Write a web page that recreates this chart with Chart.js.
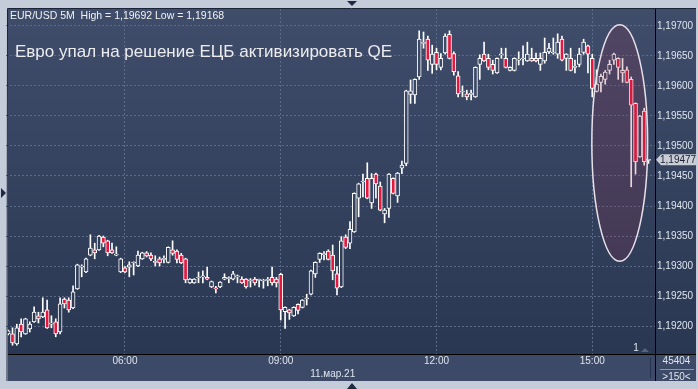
<!DOCTYPE html>
<html>
<head>
<meta charset="utf-8">
<script src="https://cdn.jsdelivr.net/npm/chart.js@4.4.1/dist/chart.umd.min.js"></script>
<style>
  html, body { margin: 0; padding: 0; background: #c3ccd8; }
  #wrap { width: 698px; height: 389px; }
</style>
</head>
<body>
<div id="wrap"><canvas id="chart" width="698" height="389"></canvas></div>
<script>
// texts
const symbolInfo = "EUR/USD 5M  High = 1,19692 Low = 1,19168";
const headline = "Евро упал на решение ЕЦБ активизировать QE";
const dateLabel = "11.мар.21";
const hourLabels = ["06:00", "09:00", "12:00", "15:00"];
const dateUnder = "10:00";
const barTotal = "45404";
const barsShown = ">150<";
const lastPrice = 1.19477;

// 5 minute bars from 03:45, one empty slot at the end
const firstBar = "03:45";
const slots = 150;

const opens = [
  1.19187, 1.19187, 1.19170, 1.19203, 1.19187, 1.19195, 1.19207, 1.19217, 1.19215, 1.19227,
  1.19203, 1.19207, 1.19190, 1.19245, 1.19243, 1.19230, 1.19262, 1.19298, 1.19290, 1.19318,
  1.19327, 1.19327, 1.19348, 1.19342, 1.19327, 1.19318, 1.19290, 1.19297, 1.19298, 1.19305,
  1.19300, 1.19312, 1.19322, 1.19318, 1.19307, 1.19312, 1.19311, 1.19306, 1.19327, 1.19325,
  1.19318, 1.19312, 1.19272, 1.19272, 1.19280, 1.19282, 1.19281, 1.19265, 1.19263, 1.19265,
  1.19278, 1.19279, 1.19278, 1.19282, 1.19278, 1.19278, 1.19275, 1.19278, 1.19276, 1.19275,
  1.19276, 1.19281, 1.19278, 1.19286, 1.19224, 1.19227, 1.19217, 1.19236, 1.19231, 1.19245,
  1.19253, 1.19287, 1.19311, 1.19319, 1.19325, 1.19318, 1.19287, 1.19265, 1.19348, 1.19338,
  1.19357, 1.19413, 1.19440, 1.19446, 1.19405, 1.19453, 1.19433, 1.19387, 1.19396, 1.19446,
  1.19417, 1.19463, 1.19471, 1.19586, 1.19585, 1.19615, 1.19671, 1.19678, 1.19636, 1.19656,
  1.19631, 1.19655, 1.19686, 1.19654, 1.19617, 1.19590, 1.19587, 1.19586, 1.19582, 1.19636,
  1.19653, 1.19646, 1.19636, 1.19622, 1.19652, 1.19646, 1.19626, 1.19626, 1.19643, 1.19645,
  1.19642, 1.19646, 1.19646, 1.19636, 1.19642, 1.19657, 1.19655, 1.19653, 1.19678, 1.19646,
  1.19646, 1.19631, 1.19636, 1.19656, 1.19667, 1.19646, 1.19591, 1.19606, 1.19611, 1.19626,
  1.19643, 1.19646, 1.19626, 1.19627, 1.19611, 1.19571, 1.19482, 1.19558, 1.19476
];
const highs = [
  1.19193, 1.19197, 1.19203, 1.19212, 1.19213, 1.19207, 1.19232, 1.19223, 1.19247, 1.19243,
  1.19217, 1.19212, 1.19247, 1.19247, 1.19247, 1.19267, 1.19303, 1.19302, 1.19313, 1.19352,
  1.19338, 1.19351, 1.19350, 1.19343, 1.19338, 1.19332, 1.19313, 1.19299, 1.19307, 1.19307,
  1.19325, 1.19323, 1.19324, 1.19322, 1.19317, 1.19315, 1.19317, 1.19332, 1.19342, 1.19327,
  1.19321, 1.19313, 1.19279, 1.19279, 1.19290, 1.19292, 1.19298, 1.19275, 1.19266, 1.19274,
  1.19287, 1.19282, 1.19291, 1.19285, 1.19282, 1.19279, 1.19279, 1.19281, 1.19278, 1.19278,
  1.19281, 1.19298, 1.19281, 1.19288, 1.19232, 1.19228, 1.19232, 1.19237, 1.19244, 1.19253,
  1.19293, 1.19307, 1.19322, 1.19324, 1.19327, 1.19335, 1.19299, 1.19349, 1.19352, 1.19374,
  1.19422, 1.19438, 1.19453, 1.19472, 1.19454, 1.19455, 1.19440, 1.19396, 1.19454, 1.19447,
  1.19456, 1.19475, 1.19593, 1.19610, 1.19612, 1.19692, 1.19690, 1.19683, 1.19668, 1.19663,
  1.19654, 1.19687, 1.19692, 1.19657, 1.19624, 1.19600, 1.19593, 1.19593, 1.19632, 1.19652,
  1.19673, 1.19653, 1.19643, 1.19647, 1.19663, 1.19663, 1.19632, 1.19647, 1.19657, 1.19667,
  1.19673, 1.19663, 1.19655, 1.19655, 1.19680, 1.19671, 1.19680, 1.19687, 1.19683, 1.19654,
  1.19663, 1.19643, 1.19663, 1.19678, 1.19668, 1.19653, 1.19627, 1.19620, 1.19626, 1.19643,
  1.19655, 1.19647, 1.19646, 1.19632, 1.19615, 1.19572, 1.19551, 1.19563, 1.19478
];
const lows = [
  1.19185, 1.19168, 1.19168, 1.19182, 1.19186, 1.19190, 1.19206, 1.19205, 1.19214, 1.19196,
  1.19197, 1.19182, 1.19187, 1.19230, 1.19223, 1.19229, 1.19261, 1.19282, 1.19289, 1.19317,
  1.19312, 1.19326, 1.19332, 1.19317, 1.19321, 1.19317, 1.19289, 1.19289, 1.19282, 1.19285,
  1.19299, 1.19311, 1.19315, 1.19309, 1.19300, 1.19300, 1.19305, 1.19305, 1.19318, 1.19305,
  1.19304, 1.19272, 1.19271, 1.19271, 1.19272, 1.19272, 1.19277, 1.19264, 1.19255, 1.19264,
  1.19277, 1.19272, 1.19277, 1.19272, 1.19271, 1.19263, 1.19265, 1.19268, 1.19265, 1.19263,
  1.19267, 1.19268, 1.19265, 1.19210, 1.19196, 1.19211, 1.19216, 1.19220, 1.19230, 1.19235,
  1.19252, 1.19281, 1.19306, 1.19310, 1.19310, 1.19277, 1.19252, 1.19264, 1.19329, 1.19329,
  1.19356, 1.19382, 1.19415, 1.19412, 1.19396, 1.19413, 1.19392, 1.19372, 1.19381, 1.19420,
  1.19406, 1.19454, 1.19467, 1.19571, 1.19571, 1.19611, 1.19663, 1.19626, 1.19621, 1.19627,
  1.19627, 1.19653, 1.19645, 1.19618, 1.19582, 1.19582, 1.19577, 1.19577, 1.19581, 1.19611,
  1.19641, 1.19627, 1.19620, 1.19621, 1.19646, 1.19630, 1.19625, 1.19625, 1.19635, 1.19635,
  1.19641, 1.19641, 1.19640, 1.19626, 1.19638, 1.19654, 1.19653, 1.19646, 1.19642, 1.19626,
  1.19625, 1.19622, 1.19632, 1.19653, 1.19622, 1.19582, 1.19590, 1.19590, 1.19603, 1.19620,
  1.19636, 1.19611, 1.19606, 1.19605, 1.19432, 1.19453, 1.19481, 1.19468, 1.19471
];
const closes = [
  1.19192, 1.19172, 1.19197, 1.19190, 1.19212, 1.19203, 1.19223, 1.19212, 1.19223, 1.19197,
  1.19204, 1.19187, 1.19237, 1.19237, 1.19227, 1.19257, 1.19302, 1.19299, 1.19312, 1.19330,
  1.19322, 1.19350, 1.19338, 1.19322, 1.19322, 1.19319, 1.19312, 1.19290, 1.19302, 1.19306,
  1.19318, 1.19322, 1.19317, 1.19312, 1.19306, 1.19305, 1.19312, 1.19331, 1.19321, 1.19311,
  1.19305, 1.19277, 1.19278, 1.19278, 1.19281, 1.19283, 1.19278, 1.19274, 1.19262, 1.19273,
  1.19281, 1.19280, 1.19287, 1.19283, 1.19272, 1.19265, 1.19276, 1.19272, 1.19277, 1.19276,
  1.19277, 1.19272, 1.19272, 1.19227, 1.19231, 1.19222, 1.19231, 1.19226, 1.19243, 1.19246,
  1.19292, 1.19306, 1.19321, 1.19320, 1.19311, 1.19292, 1.19263, 1.19342, 1.19331, 1.19361,
  1.19421, 1.19437, 1.19441, 1.19413, 1.19446, 1.19437, 1.19393, 1.19393, 1.19453, 1.19421,
  1.19455, 1.19468, 1.19592, 1.19592, 1.19611, 1.19678, 1.19672, 1.19643, 1.19653, 1.19636,
  1.19646, 1.19683, 1.19646, 1.19624, 1.19587, 1.19591, 1.19582, 1.19587, 1.19631, 1.19646,
  1.19642, 1.19631, 1.19626, 1.19646, 1.19653, 1.19631, 1.19631, 1.19646, 1.19644, 1.19646,
  1.19653, 1.19642, 1.19642, 1.19646, 1.19656, 1.19663, 1.19656, 1.19673, 1.19643, 1.19653,
  1.19626, 1.19632, 1.19653, 1.19673, 1.19653, 1.19596, 1.19603, 1.19616, 1.19623, 1.19636,
  1.19653, 1.19631, 1.19622, 1.19606, 1.19568, 1.19474, 1.19550, 1.19474, 1.19477
];

// highlighted zone (bar index and price range)
const zoneFrom = 134.9, zoneTo = 147.8;
const zoneLow = 1.19308, zoneHigh = 1.19702;

const times = [];
{
  const [h0, m0] = firstBar.split(":").map(Number);
  for (let i = 0; i < slots; i++) {
    const m = h0 * 60 + m0 + i * 5;
    times.push(String(Math.floor(m / 60)).padStart(2, "0") + ":" + String(m % 60).padStart(2, "0"));
  }
}

const font = '"Liberation Sans", Arial, sans-serif';
const gridColor = "#5d6b8a";
const red = "#e5173d";

let fillCache = null;
function panelFill(chart) {
  const a = chart.chartArea;
  if (!a) return "#36435f";
  if (!fillCache || fillCache.top !== a.top || fillCache.bottom !== a.bottom) {
    const g = chart.ctx.createLinearGradient(0, a.top, 0, a.bottom);
    g.addColorStop(0, "#3f4d6b");
    g.addColorStop(1, "#2a3752");
    fillCache = { top: a.top, bottom: a.bottom, g };
  }
  return fillCache.g;
}

const isUp = opens.map((o, i) => closes[i] >= o);
const hourIdx = hourLabels.map(t => times.indexOf(t));
const dateIdx = times.indexOf(dateUnder);

const frame = {
  id: "frame",
  beforeDraw(chart) {
    const { ctx, chartArea: a, width: W, height: H } = chart;
    ctx.save();
    ctx.fillStyle = "#c3ccd8";
    ctx.fillRect(0, 0, W, H);
    ctx.fillStyle = panelFill(chart);
    ctx.fillRect(8, 9, W - 10, a.bottom - 9);
    ctx.fillStyle = "#3c4a67";
    ctx.fillRect(8, a.bottom, W - 10, 381 - a.bottom);
    ctx.restore();
  },
  afterDatasetsDraw(chart) {
    const { ctx } = chart;
    const sx = chart.scales.x, sy = chart.scales.y;
    const x1 = sx.getPixelForValue(zoneFrom), x2 = sx.getPixelForValue(zoneTo);
    const y1 = sy.getPixelForValue(zoneHigh), y2 = sy.getPixelForValue(zoneLow);
    ctx.save();
    ctx.beginPath();
    ctx.ellipse((x1 + x2) / 2, (y1 + y2) / 2, (x2 - x1) / 2, (y2 - y1) / 2, 0, 0, Math.PI * 2);
    ctx.fillStyle = "rgba(150, 45, 75, 0.2)";
    ctx.fill();
    ctx.lineWidth = 1.5;
    ctx.strokeStyle = "#e8dfe8";
    ctx.stroke();
    ctx.restore();
  },
  afterDraw(chart) {
    const { ctx, chartArea: a, width: W } = chart;
    ctx.save();
    // borders
    ctx.lineWidth = 1;
    ctx.strokeStyle = "#1b2336";
    ctx.beginPath();
    ctx.moveTo(7, 381); ctx.lineTo(7.5, 8.5); ctx.lineTo(W - 2, 8.5);
    ctx.stroke();
    ctx.strokeStyle = "#000000";
    ctx.beginPath();
    ctx.moveTo(a.right + 0.5, 9); ctx.lineTo(a.right + 0.5, 381);
    ctx.moveTo(8, a.bottom - 0.5); ctx.lineTo(W - 2, a.bottom - 0.5);
    ctx.stroke();
    ctx.strokeStyle = "#27324a";
    ctx.beginPath();
    ctx.moveTo(a.right - 4.5, a.bottom + 3); ctx.lineTo(a.right - 4.5, 378);
    ctx.stroke();
    ctx.strokeStyle = "#8c97ab";
    ctx.beginPath();
    ctx.moveTo(a.right + 5, 369.5); ctx.lineTo(W - 4, 369.5);
    ctx.stroke();

    // scroll arrows
    ctx.fillStyle = "#1e2a44";
    ctx.beginPath(); ctx.moveTo(347, 1); ctx.lineTo(357, 1); ctx.lineTo(352, 6); ctx.fill();
    ctx.beginPath(); ctx.moveTo(347, 389); ctx.lineTo(357, 389); ctx.lineTo(352, 383); ctx.fill();
    ctx.beginPath(); ctx.moveTo(1, 188); ctx.lineTo(1, 198); ctx.lineTo(6, 193); ctx.fill();

    // header + headline
    ctx.fillStyle = "#f2f2f2";
    ctx.font = "10.5px " + font;
    ctx.textBaseline = "alphabetic";
    ctx.fillText(symbolInfo, 10, 18.5);
    ctx.fillStyle = "#ececee";
    ctx.font = "17px " + font;
    ctx.fillText(headline, 15, 57);

    // bar counters
    ctx.fillStyle = "#dfe5ef";
    ctx.font = "10px " + font;
    ctx.textAlign = "center";
    ctx.textBaseline = "middle";
    ctx.fillText(barTotal, (a.right + W) / 2, 361);
    ctx.fillText(barsShown, (a.right + W) / 2, 377);
    ctx.fillText("1", 636, 348);
    ctx.fillStyle = "#56637c";
    ctx.beginPath(); ctx.moveTo(641, 352); ctx.lineTo(649, 352); ctx.lineTo(645, 348); ctx.fill();

    // last price marker
    const py = chart.scales.y.getPixelForValue(lastPrice);
    ctx.fillStyle = "#c9cdd5";
    ctx.beginPath();
    ctx.moveTo(a.right + 1, py);
    ctx.lineTo(a.right + 6, py - 5.5);
    ctx.lineTo(W - 2, py - 5.5);
    ctx.lineTo(W - 2, py + 5.5);
    ctx.lineTo(a.right + 6, py + 5.5);
    ctx.closePath();
    ctx.fill();
    ctx.fillStyle = "#1c2232";
    ctx.textAlign = "left";
    ctx.fillText(lastPrice.toFixed(5).replace(".", ","), a.right + 5, py + 0.5);
    ctx.restore();
  }
};

new Chart(document.getElementById("chart"), {
  type: "bar",
  data: {
    labels: times,
    datasets: [
      {
        label: "body",
        data: opens.map((o, i) => [o, closes[i]]),
        backgroundColor: ctx => isUp[ctx.dataIndex] ? panelFill(ctx.chart) : red,
        borderColor: "#ffffff",
        borderWidth: 1,
        borderSkipped: false,
        barThickness: 4,
        minBarLength: 1,
        grouped: false
      },
      {
        label: "wick",
        data: lows.map((l, i) => [l, highs[i]]),
        backgroundColor: "#ffffff",
        borderWidth: 0,
        barThickness: 1,
        grouped: false
      }
    ]
  },
  options: {
    responsive: false,
    animation: false,
    devicePixelRatio: 1,
    layout: { padding: { left: 6, top: 9, right: 0, bottom: 0 } },
    plugins: { legend: { display: false }, tooltip: { enabled: false } },
    scales: {
      x: {
        offset: true,
        grid: {
          offset: false,
          drawTicks: false,
          color: c => hourIdx.includes(c.index) ? gridColor : "transparent"
        },
        border: { display: false, dash: [2, 2] },
        ticks: {
          autoSkip: false,
          maxRotation: 0,
          padding: 0,
          color: "#dfe5ef",
          font: { family: font, size: 10, lineHeight: 1.25 },
          callback: (v, i) => {
            if (hourIdx.includes(i)) return times[i];
            if (i === dateIdx) return ["", dateLabel];
            return "";
          }
        },
        afterFit: s => { s.height = 34; }
      },
      y: {
        position: "right",
        min: 1.1915167,
        max: 1.1972833,
        grid: { color: gridColor, drawTicks: false },
        border: { display: false, dash: [2, 2] },
        ticks: {
          stepSize: 0.0005,
          padding: 2,
          color: "#dfe5ef",
          font: { family: font, size: 10 },
          callback: v => v.toFixed(5).replace(".", ",")
        },
        afterBuildTicks: s => {
          s.ticks = s.ticks.filter(t => Math.abs(t.value * 2000 - Math.round(t.value * 2000)) < 1e-6);
        },
        afterFit: s => { s.width = 43; }
      }
    }
  },
  plugins: [frame]
});
</script>
</body>
</html>
